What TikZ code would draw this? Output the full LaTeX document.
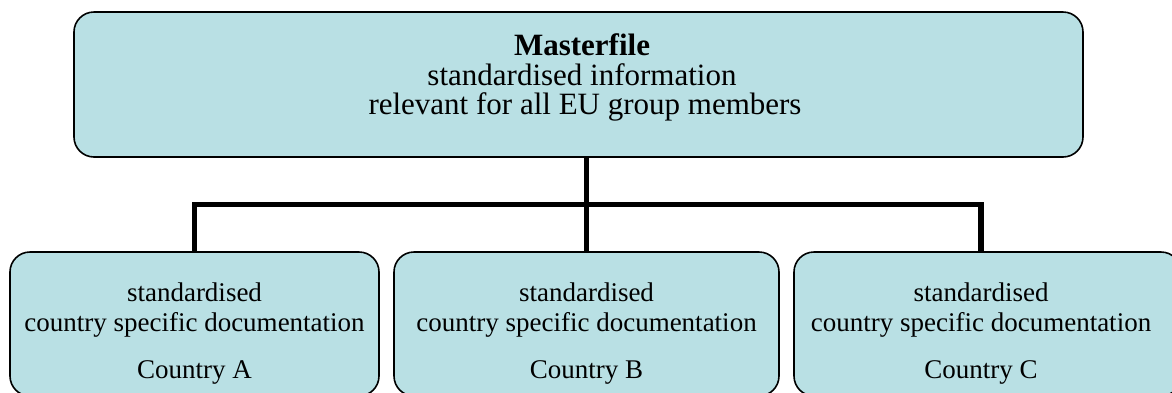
\documentclass[tikz,border=0pt]{standalone}
\usepackage{fontspec}
\setmainfont{Liberation Serif}
\definecolor{boxfill}{RGB}{185,224,228}
\tikzset{
  box/.style={draw=black, line width=1.6pt, fill=boxfill, rounded corners=20pt,
              inner sep=0pt, outer sep=0pt},
  conn/.style={draw=black, line width=5.5pt, line join=miter},
  toptext/.style={font=\fontsize{31}{36}\selectfont, inner sep=0pt, anchor=base},
  subtext/.style={font=\fontsize{27}{31}\selectfont, inner sep=0pt, anchor=base}
}
\begin{document}
\begin{tikzpicture}[x=1pt,y=-1pt]
  \clip (0,0) rectangle (1172,392);
  \fill[white] (0,0) rectangle (1172,392);

  % top box
  \node[box, minimum width=1009pt, minimum height=145pt] (master) at (578.5,84.5) {};
  \node[toptext] (mt1) at (582,55.5) {\bfseries Masterfile};
  \node[toptext] (mt2) at (582,85) {standardised information};
  \node[toptext] (mt3) at (585,114.5) {relevant for all EU group members};

  % country boxes
  \node[box, minimum width=369pt, minimum height=144pt] (ca) at (194.5,324) {};
  \node[box, minimum width=385pt, minimum height=144pt] (cb) at (586.5,324) {};
  \node[box, minimum width=387pt, minimum height=144pt] (cc) at (987.5,324) {};

  \foreach \b/\x/\c in {ca/194.5/A, cb/586.5/B, cc/981/C}{
    \node[subtext] (\b1) at (\x,301) {standardised};
    \node[subtext] (\b2) at (\x,331) {country specific documentation};
    \node[subtext] (\b3) at (\x,378) {Country \c};
  }

  % connectors
  \coordinate (jA) at (194.5,204.5);
  \coordinate (jB) at (586.5,204.5);
  \coordinate (jC) at (981,204.5);
  \draw[conn] (jA |- ca.north) -- (jA) -- (jC) -- (jC |- cc.north);
  \draw[conn] (jB |- master.south) -- (jB |- cb.north);
\end{tikzpicture}
\end{document}
